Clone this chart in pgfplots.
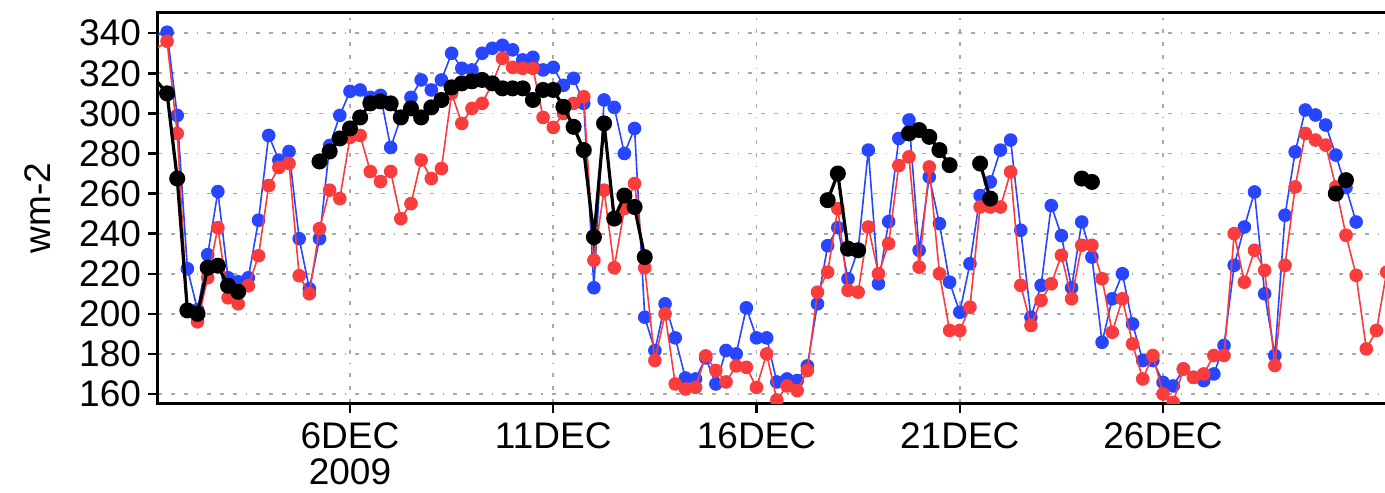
\documentclass[border=0pt]{standalone}
\usepackage{pgfplots}
\pgfplotsset{compat=1.18}
\usepackage{pgfplotstable}
\usepackage{fontspec}
\setmainfont{Liberation Sans}

\definecolor{sblue}{RGB}{40,70,255}
\definecolor{sred}{RGB}{250,60,60}
\definecolor{gridgray}{RGB}{170,170,170}

% 6-hourly values, t in days of December 2009
\pgfplotstableread{
t     blue   red    black
1.25  339    332.5  316
1.50  340.5  336    310
1.75  299    290    267.5
2.00  222.5  202    201.7
2.25  202    196    200
2.50  229.5  218    223
2.75  261    243    224
3.00  218    208    214
3.25  216    205    211
3.50  218    214    nan
3.75  246.7  229    nan
4.00  289    264    nan
4.25  276.7  273    nan
4.50  281    275    nan
4.75  237.5  219    nan
5.00  212.5  210    nan
5.25  237.5  242.5  276
5.50  284    261.7  281
5.75  299    257.5  287.5
6.00  311    288    292.5
6.25  311.7  289    298
6.50  308    271    305
6.75  309    266    306
7.00  283    271    305
7.25  298    247.5  298
7.50  308    255    302.5
7.75  316.7  276.7  298
8.00  311.7  267.5  303
8.25  316.7  272.5  306.7
8.50  330    310    313
8.75  322.5  295    315
9.00  321.7  302.5  316
9.25  330    305    316.7
9.50  332.5  315    315
9.75  334    327.5  312.5
10.00 331.7  323    312.5
10.25 326.7  322.5  312.5
10.50 328    322.5  306.7
10.75 321.7  298    311.7
11.00 323    293    311.7
11.25 314    300    303.3
11.50 317.5  305    293.3
11.75 305    308.3  281.7
12.00 213    226.7  238.3
12.25 306.7  261.7  295
12.50 303    223    247.5
12.75 280    252.5  259
13.00 292.5  265    253.3
13.25 198.3  223    228.3
13.50 181.7  176.7  nan
13.75 205    200    nan
14.00 188    165    nan
14.25 168    162.5  nan
14.50 167.5  163.3  nan
14.75 178    179    nan
15.00 165    171.7  nan
15.25 181.7  166    nan
15.50 180    174    nan
15.75 203    173.3  nan
16.00 188    163.3  nan
16.25 188    180    nan
16.50 166    157    nan
16.75 167.5  164    nan
17.00 166.7  161.7  nan
17.25 174    171.7  nan
17.50 205    210.8  nan
17.75 234    220.8  256.7
18.00 243    252.5  270
18.25 217.5  211.7  232.5
18.50 232    210.8  231.7
18.75 281.7  243.3  nan
19.00 215    220    nan
19.25 246    235    nan
19.50 287.5  274    nan
19.75 296.7  278.3  290
20.00 231.7  223.3  291.7
20.25 268.3  273.3  288.3
20.50 245    220    281.7
20.75 215.8  191.7  274.2
21.00 200.8  191.7  nan
21.25 225    203.3  nan
21.50 259    253.3  275
21.75 265.8  253.3  257.5
22.00 281.7  253.3  nan
22.25 286.7  270.8  nan
22.50 241.7  214.2  nan
22.75 198.3  194.2  nan
23.00 214.2  206.7  nan
23.25 254    215    nan
23.50 239    229.2  nan
23.75 213    207.5  nan
24.00 245.8  234.2  267.5
24.25 228.3  234.2  265.8
24.50 185.8  217.5  nan
24.75 207.5  190.8  nan
25.00 220    207.5  nan
25.25 195    185    nan
25.50 176.7  167.5  nan
25.75 176.7  179.2  nan
26.00 165.8  160    nan
26.25 164    155.8  nan
26.50 172.5  172.5  nan
26.75 168.3  168.3  nan
27.00 166.7  170    nan
27.25 170    179.2  nan
27.50 184.2  179.2  nan
27.75 224.2  240    nan
28.00 243.3  215.8  nan
28.25 260.8  231.7  nan
28.50 210    221.7  nan
28.75 179.2  174.2  nan
29.00 249.2  224.2  nan
29.25 280.8  263.3  nan
29.50 301.7  290    nan
29.75 299.2  286.7  nan
30.00 294.2  284.2  nan
30.25 279.2  263.3  260
30.50 263    239.2  266.7
30.75 245.8  219.2  nan
31.00 nan    182.5  nan
31.25 nan    191.7  nan
31.50 nan    220.8  nan
}\swr

\begin{document}
\begin{tikzpicture}
\useasboundingbox (-79pt,-44.5pt) rectangle (613.5pt,201.5pt);
\clip (-79pt,-44.5pt) rectangle (613.5pt,201.5pt);
\begin{axis}[
  scale only axis, width=620pt, height=195pt,
  xmin=1.277, xmax=31.78, ymin=155.5, ymax=350.1,
  axis line style={line width=1.5pt},
  tick align=outside, major tick length=5pt,
  tick style={line width=1.2pt, black},
  xtick pos=left, ytick pos=left,
  xtick={6,11,16,21,26},
  xticklabels={{6DEC\\2009},11DEC,16DEC,21DEC,26DEC},
  ytick={160,180,...,340},
  /pgf/number format/assume math mode=true,
  tick label style={font=\fontsize{18.5}{17.8}\selectfont},
  xticklabel style={align=center, yshift=-1.5pt},
  grid=major,
  grid style={gridgray, line width=0.9pt,
    dash pattern=on 2pt off 4.5pt on 2pt off 4.5pt on 2pt off 4.5pt on 0.6pt off 4.5pt},
  ylabel={wm-2},
  every axis y label/.style={at={(axis description cs:-0.097,0.5)}, rotate=90, anchor=center,
    font=\fontsize{18.5}{20}\selectfont},
  unbounded coords=jump,
  clip marker paths=true,
]
\addplot[sblue, line width=0.8pt, mark=*, mark size=3pt, mark options={fill=sblue, draw=sblue}]
  table[x=t, y=blue] {\swr};
\addplot[sred, line width=0.8pt, mark=*, mark size=3pt, mark options={fill=sred, draw=sred}]
  table[x=t, y=red] {\swr};
\addplot[black, line width=1.6pt, mark=*, mark size=3.2pt, mark options={fill=black, draw=black}]
  table[x=t, y=black] {\swr};
\end{axis}
\end{tikzpicture}
\end{document}
